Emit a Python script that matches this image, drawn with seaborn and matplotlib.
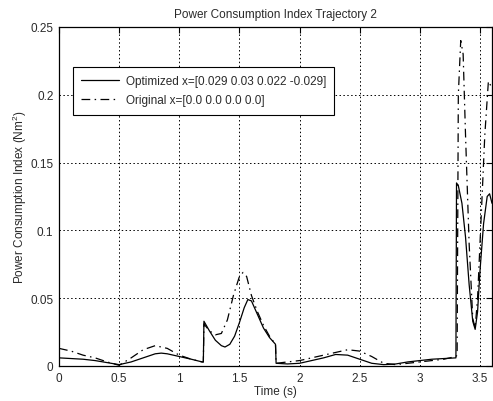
import numpy as np
import pandas as pd
import matplotlib
matplotlib.use("Agg")
import matplotlib.pyplot as plt
import seaborn as sns

# ---- data ----
t_opt = [0, 0.1, 0.2, 0.3, 0.4, 0.5, 0.6, 0.7, 0.8, 0.85, 0.9, 1.0, 1.1, 1.19, 1.2,
         1.205, 1.25, 1.3, 1.35, 1.38, 1.42, 1.46, 1.5, 1.54, 1.57, 1.6, 1.65, 1.7,
         1.75, 1.8, 1.805, 1.9, 2.0, 2.1, 2.2, 2.3, 2.4, 2.5, 2.6, 2.7, 2.8, 2.9, 3.0,
         3.1, 3.2, 3.3, 3.305, 3.32, 3.35, 3.38, 3.41, 3.44, 3.46, 3.48, 3.5, 3.53,
         3.56, 3.58, 3.6]
y_opt = [0.006, 0.0055, 0.005, 0.004, 0.0025, 0.001, 0.003, 0.006, 0.009, 0.0095,
         0.009, 0.007, 0.005, 0.003, 0.003,
         0.033, 0.026, 0.019, 0.015, 0.014, 0.016, 0.022, 0.032, 0.043, 0.049, 0.048,
         0.038, 0.028, 0.021, 0.016, 0.002, 0.0015, 0.002, 0.004, 0.006, 0.0085, 0.008,
         0.005, 0.002, 0.001, 0.0015, 0.003, 0.004, 0.005, 0.0055, 0.006,
         0.135, 0.133, 0.12, 0.095, 0.06, 0.033, 0.027, 0.04, 0.07, 0.105, 0.125,
         0.127, 0.12]

t_orig = [0, 0.1, 0.2, 0.3, 0.4, 0.5, 0.6, 0.7, 0.8, 0.9, 1.0, 1.1, 1.19, 1.2,
          1.205, 1.25, 1.3, 1.35, 1.4, 1.45, 1.5, 1.53, 1.56, 1.6, 1.65, 1.7, 1.75,
          1.8, 1.805, 1.9, 2.0, 2.1, 2.2, 2.3, 2.4, 2.5, 2.6, 2.7, 2.8, 2.9, 3.0, 3.1,
          3.2, 3.3, 3.31, 3.32, 3.34, 3.36, 3.38, 3.41, 3.44, 3.46, 3.48, 3.51, 3.54,
          3.57, 3.6]
y_orig = [0.013, 0.011, 0.008, 0.006, 0.003, 0.0005, 0.006, 0.012, 0.015, 0.013,
          0.008, 0.005, 0.003, 0.003,
          0.031, 0.026, 0.023, 0.024, 0.034, 0.052, 0.066, 0.069, 0.066, 0.052, 0.040,
          0.030, 0.022, 0.016, 0.002, 0.003, 0.004, 0.006, 0.008, 0.010, 0.012, 0.011,
          0.007, 0.002, 0.001, 0.002, 0.003, 0.004, 0.005, 0.007, 0.008,
          0.20, 0.24, 0.23, 0.17, 0.09, 0.035, 0.028, 0.05, 0.11, 0.17, 0.21, 0.205]

labels = ["Optimized x=[0.029 0.03 0.022 -0.029]", "Original x=[0.0 0.0 0.0 0.0]"]
title = "Power Consumption Index Trajectory 2"
xlabel = "Time (s)"
ylabel = "Power Consumption Index (Nm$^2$)"
xticks = [0, 0.5, 1, 1.5, 2, 2.5, 3, 3.5]
xticklabels = ["0", "0.5", "1", "1.5", "2", "2.5", "3", "3.5"]
yticks = [0, 0.05, 0.1, 0.15, 0.2, 0.25]
yticklabels = ["0", "0.05", "0.1", "0.15", "0.2", "0.25"]

# ---- plot ----
sns.set_style("white")
plt.rcParams['font.family'] = ['Liberation Sans', 'DejaVu Sans']
plt.rcParams['mathtext.fontset'] = 'custom'
plt.rcParams['mathtext.rm'] = 'Liberation Sans'

fig = plt.figure(figsize=(4.93, 4.02), dpi=100)
ax = fig.add_axes([59/493, 1 - 367/402, 433/493, 339/402])

txtc = '#2a2a2a'
fs = 8.5
dashdot = (0, (7, 3.5, 1.2, 3.5))

df_opt = pd.DataFrame({"t": t_opt, "y": y_opt})
df_orig = pd.DataFrame({"t": t_orig, "y": y_orig})

sns.lineplot(data=df_opt, x="t", y="y", ax=ax, color='black', lw=0.9,
             estimator=None, sort=False, label=labels[0])
sns.lineplot(data=df_orig, x="t", y="y", ax=ax, color='black', lw=0.9,
             estimator=None, sort=False, label=labels[1],
             linestyle=dashdot)

ax.set_xlim(0, 3.6)
ax.set_ylim(0, 0.25)
ax.set_xticks(xticks)
ax.set_xticklabels(xticklabels)
ax.set_yticks(yticks)
ax.set_yticklabels(yticklabels)

ax.grid(True, color='black', linestyle=(0, (1.5, 2.5)), linewidth=0.7)
ax.tick_params(direction='in', length=4, width=0.8, top=True, right=True,
               labelsize=fs, colors='black', labelcolor=txtc, pad=4)
for s in ax.spines.values():
    s.set_color('black')
    s.set_linewidth(0.9)

ax.set_title(title, fontsize=fs, color=txtc, pad=7)
ax.set_xlabel(xlabel, fontsize=fs, color=txtc, labelpad=1)
ax.set_ylabel(ylabel, fontsize=fs, color=txtc, labelpad=1)

leg = ax.legend(loc='upper left', bbox_to_anchor=(14/433, (367-68)/339),
                fontsize=fs, frameon=True, fancybox=False, framealpha=1,
                edgecolor='black', handlelength=3.2, borderpad=0.7,
                labelspacing=0.6, handletextpad=0.55, borderaxespad=0)
leg.get_frame().set_linewidth(0.8)
for txt in leg.get_texts():
    txt.set_color(txtc)

fig.savefig("out.png", dpi=100)
